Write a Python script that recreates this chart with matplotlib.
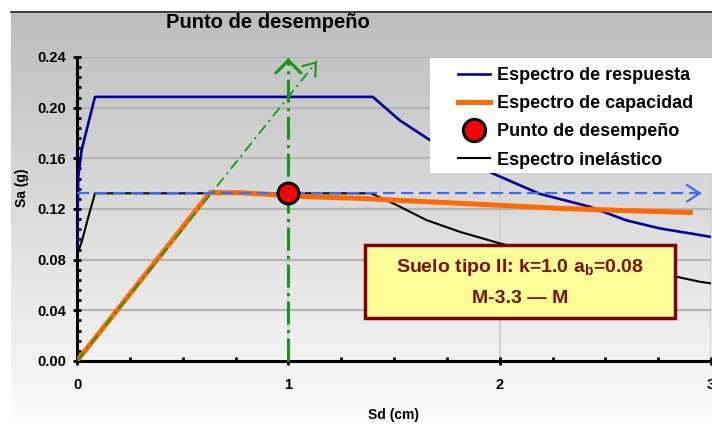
import numpy as np
import matplotlib
matplotlib.use("Agg")
import matplotlib.pyplot as plt
from matplotlib.patches import Rectangle
from matplotlib.lines import Line2D
from matplotlib.ticker import MultipleLocator

plt.rcParams["font.family"] = ["Liberation Sans", "DejaVu Sans"]
plt.rcParams["mathtext.fontset"] = "custom"
plt.rcParams["mathtext.rm"] = "Liberation Sans:bold"
plt.rcParams["mathtext.default"] = "rm"

# Espectro de respuesta (elástico)
sd_resp = [0.0, 0.006, 0.022, 0.085, 1.40, 1.527, 1.669, 1.80, 1.968, 2.189, 2.426, 2.60, 2.757, 3.0]
sa_resp = [0.090, 0.1455, 0.1666, 0.2085, 0.2085, 0.190, 0.1745, 0.162, 0.148, 0.132, 0.1218, 0.111, 0.1047, 0.098]

# Espectro de capacidad
sd_cap = [0.0, 0.629, 0.77, 1.086, 1.338, 1.653, 1.968, 2.284, 2.599, 2.914]
sa_cap = [0.0, 0.1329, 0.1329, 0.1297, 0.1284, 0.1258, 0.1232, 0.1205, 0.1187, 0.1172]

# Espectro inelástico
sd_inel = [0.0, 0.022, 0.054, 0.085, 1.39, 1.496, 1.653, 1.811, 2.0, 2.2, 2.4, 2.6, 2.835, 2.946, 3.0]
sa_inel = [0.084, 0.094, 0.114, 0.1324, 0.1324, 0.1245, 0.1113, 0.102, 0.0929, 0.085, 0.078, 0.072, 0.0666, 0.0626, 0.0613]

# Punto de desempeño
sd_pp = 1.0
sa_pp = 0.1324

# Rectas auxiliares
demand_sd = [0.0, 1.135]
demand_sa = [0.0, 0.2366]
vert_top = 0.239
horiz_end = 2.955

x_ticks = [0, 1, 2, 3]
y_ticks = [0.00, 0.04, 0.08, 0.12, 0.16, 0.20, 0.24]

W, H = 712, 425
fig = plt.figure(figsize=(W / 100, H / 100), dpi=100)
fig.patch.set_facecolor("white")

# fondo degradado gris -> blanco
bg = fig.add_axes([11 / W, 2 / H, (W - 11) / W, (H - 13) / H])
grad = np.linspace(0, 1, 256).reshape(-1, 1)
top_c = np.array([189, 189, 189]) / 255
bot_c = np.array([252, 252, 252]) / 255
img = top_c[None, None, :] * (1 - grad[..., None]) + bot_c[None, None, :] * grad[..., None]
bg.imshow(img, aspect="auto", extent=[0, 1, 0, 1], origin="upper")
bg.set_axis_off()
fig.add_artist(Line2D([11 / W, 1], [1 - 11.5 / H, 1 - 11.5 / H], color="#333333", lw=1.3))

ax = fig.add_axes([77 / W, 1 - 361 / H, (711 - 77) / W, (361 - 57) / H])
ax.set_facecolor("none")
ax.set_xlim(0, 3)
ax.set_ylim(0, 0.24)

for s in ["top", "right"]:
    ax.spines[s].set_visible(False)
for s in ["left", "bottom"]:
    ax.spines[s].set_linewidth(2.2)
    ax.spines[s].set_color("black")

ax.set_xticks(x_ticks)
ax.set_yticks(y_ticks)
ax.set_xticklabels([str(v) for v in x_ticks], fontweight="bold", fontsize=10.5)
ax.set_yticklabels([f"{v:.2f}" for v in y_ticks], fontweight="bold", fontsize=10.5)
ax.xaxis.set_minor_locator(MultipleLocator(0.25))
ax.yaxis.set_minor_locator(MultipleLocator(0.008))
ax.tick_params(which="major", direction="inout", length=6, width=2, color="black")
ax.tick_params(axis="x", which="major", pad=9)
ax.tick_params(axis="y", which="major", pad=5)
ax.tick_params(which="minor", direction="in", length=3, width=2, color="black")

ax.grid(True, which="major", axis="y", color="#b4b4b4", lw=1.6)
ax.grid(True, which="major", axis="x", color="#cfcfcf", lw=1.3)
ax.set_axisbelow(True)

# curvas
ax.plot(sd_resp, sa_resp, color="#000099", lw=1.9, zorder=3)
ax.plot(sd_inel, sa_inel, color="black", lw=1.5, zorder=3)
ax.plot(sd_cap, sa_cap, color="#ff6a00", lw=3.6, zorder=4, solid_capstyle="butt")

# línea horizontal a la altura del punto de desempeño
ax.plot([0, horiz_end], [sa_pp, sa_pp], color="#3d6cf5", lw=1.6,
        linestyle=(0, (5.5, 2.6)), zorder=5)
ax.annotate("", xy=(horiz_end, sa_pp), xytext=(horiz_end - 0.01, sa_pp),
            arrowprops=dict(arrowstyle="->,head_length=0.45,head_width=0.3",
                            color="#3d6cf5", lw=1.6, mutation_scale=20), zorder=5)

# recta de demanda (diagonal) y vertical
ax.plot(demand_sd, demand_sa, color="#129a12", lw=1.3,
        linestyle=(0, (6, 2.6, 1.2, 2.6)), zorder=5)
ax.annotate("", xy=(demand_sd[1], demand_sa[1]),
            xytext=(demand_sd[1] - 0.006, demand_sa[1] - 0.006 * demand_sa[1] / demand_sd[1]),
            arrowprops=dict(arrowstyle="->,head_length=0.4,head_width=0.3",
                            color="#129a12", lw=1.5, mutation_scale=20),
            annotation_clip=False, zorder=5)
ax.plot([sd_pp, sd_pp], [0, vert_top], color="#129a12", lw=2.2,
        linestyle=(0, (7.5, 1.8, 1.0, 1.8)), zorder=5, clip_on=False)
ax.annotate("", xy=(sd_pp, vert_top), xytext=(sd_pp, vert_top - 0.002),
            arrowprops=dict(arrowstyle="->,head_length=0.45,head_width=0.45",
                            color="#129a12", lw=2.2, mutation_scale=20),
            annotation_clip=False, zorder=5)

ax.plot([sd_pp], [sa_pp], marker="o", markersize=15, markerfacecolor="#ff0000",
        markeredgecolor="black", markeredgewidth=2.2, linestyle="none", zorder=7)

# leyenda sobre fondo blanco
ax.add_patch(Rectangle(((430 - 77) / 634, (361 - 173) / 304), (712 - 430) / 634, 115 / 304,
                       transform=ax.transAxes, facecolor="white", edgecolor="none",
                       zorder=8, clip_on=False))
handles = [
    Line2D([], [], color="#000099", lw=1.9),
    Line2D([], [], color="#ff6a00", lw=3.6),
    Line2D([], [], marker="o", markersize=16, markerfacecolor="#ff0000",
           markeredgecolor="black", markeredgewidth=2.2, linestyle="none"),
    Line2D([], [], color="black", lw=1.5),
]
labels = ["Espectro de respuesta", "Espectro de capacidad",
          "Punto de desempeño", "Espectro inelástico"]
leg = ax.legend(handles, labels, loc="upper left",
                bbox_to_anchor=((458 - 77) / 634, (361 - 67) / 304),
                frameon=False, prop=dict(size=13, weight="bold"),
                handlelength=1.75, handletextpad=0.4, labelspacing=0.62,
                borderpad=0, borderaxespad=0)
leg.set_zorder(9)

# recuadro descriptivo
ax.add_patch(Rectangle((0.454, 0.1414), 0.489, 0.240, transform=ax.transAxes,
                       facecolor="#ffff99", edgecolor="#800000", lw=2.5, zorder=9))
txt_c = "#7d0f0f"
ax.text(0.6985, 0.306, r"Suelo tipo II: k=1.0 a$_{b}$=0.08", transform=ax.transAxes,
        ha="center", va="center", fontsize=14, fontweight="bold", color=txt_c, zorder=10)
ax.text(0.6985, 0.207, "M-3.3 \u2014 M", transform=ax.transAxes,
        ha="center", va="center", fontsize=14, fontweight="bold", color=txt_c, zorder=10)

# títulos
fig.text(268 / W, 1 - 22 / H, "Punto de desempeño", ha="center", va="center",
         fontsize=14.5, fontweight="bold")
fig.text(394 / W, 1 - 415 / H, "Sd (cm)", ha="center", va="center",
         fontsize=10, fontweight="bold")
fig.text(22 / W, 1 - 188 / H, "Sa (g)", ha="center", va="center", rotation=90,
         fontsize=10, fontweight="bold")

fig.savefig("out.png", dpi=100)
